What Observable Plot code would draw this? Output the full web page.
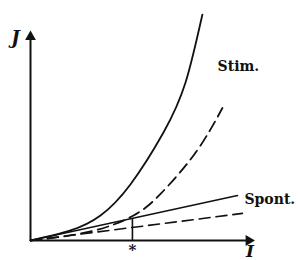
<!DOCTYPE html>
<html>
<head>
<meta charset="utf-8">
<script src="https://cdn.jsdelivr.net/npm/d3@7"></script>
<script src="https://cdn.jsdelivr.net/npm/@observablehq/plot@0.6"></script>
<style>
  html, body { margin: 0; padding: 0; background: #fff; }
  #chart { width: 300px; height: 260px; }
</style>
</head>
<body>
<div id="chart"></div>
<script>
// Stimulated emission J(I): solid and dashed curves; spontaneous emission: solid and dashed lines
const stimSolidI = [0, 1.78, 3.11, 4.44, 5.91, 6.89, 7.64];
const stimSolidJ = [0, 0.48, 1.19, 2.67, 5.14, 7.52, 10.76];
const stimDashI = [0, 2.67, 4.58, 5.78, 7.11, 8.0, 8.53];
const stimDashJ = [0, 0.43, 1.19, 2.22, 3.86, 5.29, 6.31];
const spontSolidI = [0, 9.2];
const spontSolidJ = [0, 2.14];
const spontDashI = [0, 9.42];
const spontDashJ = [0, 1.29];
const markI = 4.53;
const markJ = 1.05;
const labels = ["J", "Stim.", "Spont.", "I", "*"];

const toPts = (xs, ys) => xs.map((x, i) => ({x, y: ys[i]}));
const serif = "DejaVu Serif, Liberation Serif, serif";

const plot = Plot.plot({
  width: 300,
  height: 260,
  marginLeft: 30,
  marginRight: 45,
  marginTop: 30,
  marginBottom: 20,
  x: {domain: [0, 10], axis: null},
  y: {domain: [0, 10], axis: null},
  style: {background: "#fff", overflow: "visible"},
  marks: [
    // axes
    Plot.ruleY([0], {x1: 0, x2: 9.6, stroke: "#111", strokeWidth: 2}),
    Plot.ruleX([0], {y1: 0, y2: 9.7, stroke: "#111", strokeWidth: 2}),
    Plot.dot([{x: 0, y: 9.7}], {x: "x", y: "y", symbol: "triangle", r: 4, fill: "#111", stroke: "none"}),
    Plot.dot([{x: 9.7, y: 0}], {x: "x", y: "y", symbol: "triangle", r: 4, fill: "#111", stroke: "none", rotate: 90}),
    // curves
    Plot.line(toPts(stimSolidI, stimSolidJ), {x: "x", y: "y", curve: "natural", stroke: "#111", strokeWidth: 1.8}),
    Plot.line(toPts(stimDashI, stimDashJ), {x: "x", y: "y", curve: "natural", stroke: "#111", strokeWidth: 1.8, strokeDasharray: "11,6"}),
    Plot.line(toPts(spontSolidI, spontSolidJ), {x: "x", y: "y", stroke: "#111", strokeWidth: 1.6}),
    Plot.line(toPts(spontDashI, spontDashJ), {x: "x", y: "y", stroke: "#111", strokeWidth: 1.6, strokeDasharray: "11,6"}),
    // marker line at I*
    Plot.ruleX([markI], {y1: 0, y2: markJ, stroke: "#111", strokeWidth: 1.6}),
    // labels
    Plot.text([labels[0]], {x: -0.67, y: 9.62, text: d => d, fontFamily: serif, fontStyle: "italic", fontWeight: "bold", fontSize: 18, fill: "#111"}),
    Plot.text([labels[1]], {x: 9.24, y: 8.29, text: d => d, fontFamily: serif, fontWeight: "bold", fontSize: 14, fill: "#111"}),
    Plot.text([labels[2]], {x: 9.51, y: 1.95, text: d => d, textAnchor: "start", fontFamily: serif, fontWeight: "bold", fontSize: 14, fill: "#111"}),
    Plot.text([labels[3]], {x: 9.75, y: -0.52, text: d => d, fontFamily: serif, fontStyle: "italic", fontWeight: "bold", fontSize: 17, fill: "#111"}),
    Plot.text([labels[4]], {x: markI, y: -0.48, text: d => d, fontFamily: serif, fontWeight: "bold", fontSize: 15, fill: "#111"})
  ]
});
document.getElementById("chart").appendChild(plot);
</script>
</body>
</html>
